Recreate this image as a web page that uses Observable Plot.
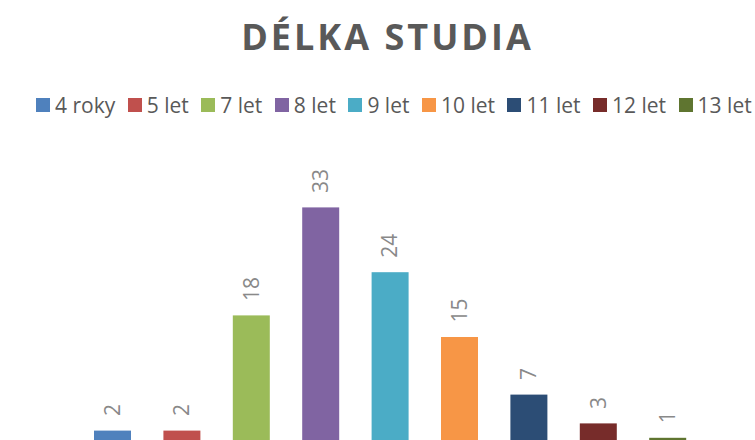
<!DOCTYPE html>
<html>
<head>
<meta charset="utf-8">
<script src="https://cdn.jsdelivr.net/npm/d3@7"></script>
<script src="https://cdn.jsdelivr.net/npm/@observablehq/plot@0.6"></script>
<style>
  html, body { margin: 0; padding: 0; background: #fff; width: 755px; height: 440px; overflow: hidden; }
  #wrap { position: relative; width: 755px; height: 440px; }
  #title { position: absolute; left: 0; width: 775px; top: 19px; text-align: center;
    font-family: "Open Sans", sans-serif; font-weight: 700; font-size: 36px; line-height: 36px;
    letter-spacing: 3px; color: #595959; }
  #legend { position: absolute; left: 36px; top: 88px; white-space: nowrap; }
  #legend [class*="-swatches"] { font-family: "Open Sans", sans-serif !important; font-size: 21px !important;
    color: #595959; min-height: 34px; margin: 0; flex-wrap: nowrap; }
  #legend [class$="-swatch"] { margin-right: 12.5px !important; }
  #legend [class$="-swatch"] > svg { margin-right: 5px !important; }
  #chart { position: absolute; left: 0; top: 150px; }
</style>
</head>
<body>
<div id="wrap">
  <div id="title">DÉLKA STUDIA</div>
  <div id="legend"></div>
  <div id="chart"></div>
</div>
<script>
const categories = ["4 roky", "5 let", "7 let", "8 let", "9 let", "10 let", "11 let", "12 let", "13 let"];
const values = [2, 2, 18, 33, 24, 15, 7, 3, 1];
const colors = ["#4f81bd", "#c0504d", "#9bbb59", "#8064a2", "#4bacc6", "#f79646", "#2c4d75", "#772c2a", "#5f7530"];

const data = categories.map((c, i) => ({category: c, value: values[i]}));

const colorScale = {domain: categories, range: colors};

document.getElementById("legend").appendChild(
  Plot.legend({color: {type: "categorical", ...colorScale}, swatchSize: 14,
    style: {fontFamily: "Open Sans, sans-serif", fontSize: "21px", color: "#595959"}})
);

const chart = Plot.plot({
  width: 755,
  height: 295,
  marginTop: 7,
  marginBottom: 0,
  marginLeft: 61.6,
  marginRight: 36.4,
  x: {domain: categories, padding: 0.467, axis: null, round: false},
  y: {domain: [0, 40], axis: null},
  color: colorScale,
  style: {background: "transparent", overflow: "visible"},
  marks: [
    Plot.barY(data, {x: "category", y: "value", fill: "category"}),
    Plot.text(data, {x: "category", y: "value", text: d => String(d.value), rotate: -90,
      textAnchor: "start", dy: -15, fill: "#898989",
      fontFamily: "Open Sans, sans-serif", fontSize: 21})
  ]
});
document.getElementById("chart").appendChild(chart);
</script>
</body>
</html>
